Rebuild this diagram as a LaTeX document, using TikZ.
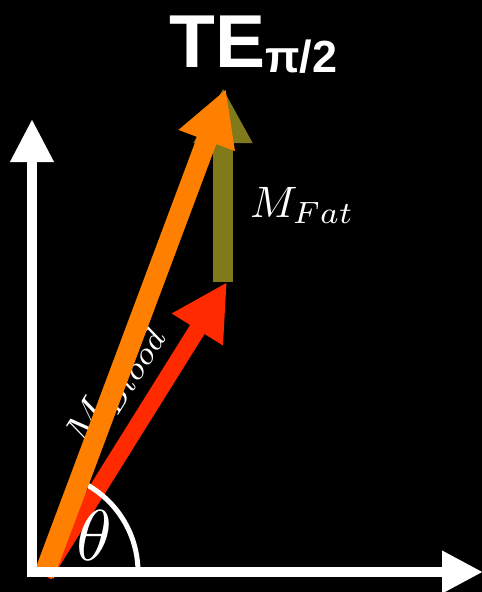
\documentclass[tikz,border=0pt]{standalone}
\usepackage{fontspec}
\usepackage{graphicx}
\newfontfamily\titlefont{Liberation Sans}[BoldFont={Liberation Sans Bold}]
\usetikzlibrary{arrows.meta}
\definecolor{vred}{RGB}{255,42,0}
\definecolor{vorange}{RGB}{255,128,0}
\definecolor{volive}{RGB}{128,122,26}
\tikzset{
  axis/.style={draw=white,line width=10pt},
  lbl/.style={text=white,inner sep=0pt}
}
\begin{document}
\begin{tikzpicture}[x=1pt,y=-1pt]
\fill[black] (0,0) rectangle (482,592);
\useasboundingbox (0,0) rectangle (482,592);
% coordinates
\coordinate (O) at (44,575);
\coordinate (redtip) at (227,282);
\coordinate (oratip) at (226,89);
\coordinate (olbase) at (223,282);
\coordinate (oltip) at (223,88);
\coordinate (ybase) at (32,577);
\coordinate (ytip) at (32,119);
\coordinate (xbase) at (30,572);
\coordinate (xtip) at (483,572);
\coordinate (arcc) at (38,572);
% olive (fat) vector
\draw[volive,line width=20pt,-{Triangle[length=55pt,width=55pt]}] (olbase) -- (oltip);
% red (blood) vector
\draw[vred,line width=17pt,-{Triangle[length=56pt,width=56pt]}] (O) -- (redtip);
% angle arc
\draw[white,line width=5pt] ([xshift=100pt]arcc) arc[start angle=0,end angle=68,radius=100pt];
% M_Blood label (under orange)
\node[lbl,rotate=58] (mblood) at (115,385) {\scalebox{4.5}{$M_{Blood}$}};
% orange (total) vector
\draw[vorange,line width=20.5pt,-{Triangle[length=55pt,width=56pt]}] (O) -- (oratip);
% axes
\draw[axis,-{Triangle[length=43pt,width=41pt]}] (ybase) -- (ytip);
\draw[axis,-{Triangle[length=41pt,width=40pt]}] (xbase) -- (xtip);
% labels
\node[lbl] (theta) at (94,535) {\scalebox{7.2}{$\theta$}};
\node[lbl,anchor=base west] (mfat) at (250,217) {\scalebox{4.4}{$M_{Fat}$}};
\node[lbl,anchor=base west] (title) at (169,67) {\titlefont\bfseries\fontsize{75}{80}\selectfont TE\raisebox{-5pt}{\fontsize{45}{50}\selectfont π/2}};
\end{tikzpicture}
\end{document}
